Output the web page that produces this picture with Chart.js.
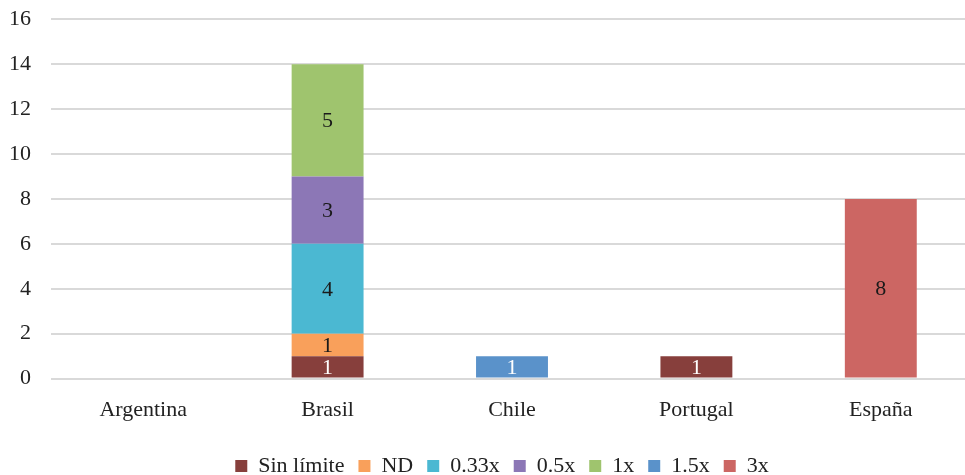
<!DOCTYPE html>
<html>
<head>
<meta charset="utf-8">
<script src="https://cdn.jsdelivr.net/npm/chart.js@4"></script>
<style>
  html, body { margin: 0; padding: 0; background: #fff; }
  #wrap { width: 965px; height: 475px; overflow: hidden; }
</style>
</head>
<body>
<div id="wrap"><canvas id="c" width="973" height="475"></canvas></div>
<script>
const categories = ['Argentina', 'Brasil', 'Chile', 'Portugal', 'España'];
const sinLimite = [null, 1, null, 1, null];
const nd = [null, 1, null, null, null];
const x033 = [null, 4, null, null, null];
const x05 = [null, 3, null, null, null];
const x1 = [null, 5, null, null, null];
const x15 = [null, null, 1, null, null];
const x3 = [null, null, null, null, 8];
const yTicks = [0, 2, 4, 6, 8, 10, 12, 14, 16];

const FONT = '"Liberation Serif", "Times New Roman", serif';

const series = [
  { label: 'Sin límite', data: sinLimite, color: '#873F3C', text: '#ffffff' },
  { label: 'ND', data: nd, color: '#F9A05B', text: '#1a1a1a' },
  { label: '0.33x', data: x033, color: '#4BB8D2', text: '#1a1a1a' },
  { label: '0.5x', data: x05, color: '#8C77B6', text: '#1a1a1a' },
  { label: '1x', data: x1, color: '#9FC46E', text: '#1a1a1a' },
  { label: '1.5x', data: x15, color: '#5A92CA', text: '#ffffff' },
  { label: '3x', data: x3, color: '#CC6663', text: '#1a1a1a' }
];

// Writes each segment's value in the middle of its bar
const valueLabels = {
  id: 'valueLabels',
  afterDatasetsDraw(chart) {
    const ctx = chart.ctx;
    ctx.save();
    ctx.font = '22px ' + FONT;
    ctx.textAlign = 'center';
    ctx.textBaseline = 'middle';
    chart.data.datasets.forEach((ds, i) => {
      const meta = chart.getDatasetMeta(i);
      meta.data.forEach((bar, j) => {
        const v = ds.data[j];
        if (v === null || v === undefined) return;
        ctx.fillStyle = ds.labelColor;
        ctx.fillText(String(v), bar.x, (bar.y + bar.base) / 2 + 1);
      });
    });
    ctx.restore();
  }
};

// Nudges the legend row to the right of the canvas centre
const legendShift = {
  id: 'legendShift',
  afterLayout(chart) {
    const lg = chart.legend;
    if (lg) { lg.left += 14; lg.right += 14; }
  }
};

new Chart(document.getElementById('c'), {
  type: 'bar',
  data: {
    labels: categories,
    datasets: series.map(s => ({
      label: s.label,
      data: s.data,
      backgroundColor: s.color,
      borderWidth: 0,
      labelColor: s.text,
      barPercentage: 0.78,
      categoryPercentage: 0.5
    }))
  },
  options: {
    responsive: false,
    animation: false,
    layout: { padding: { left: 3, right: 0, top: 12, bottom: -12 } },
    scales: {
      x: {
        stacked: true,
        grid: { display: false, drawTicks: false },
        border: { display: false },
        ticks: { color: '#222', font: { family: FONT, size: 22 }, padding: 18 }
      },
      y: {
        stacked: true,
        min: 0,
        max: 16,
        afterBuildTicks(axis) { axis.ticks = yTicks.map(v => ({ value: v })); },
        grid: { color: '#D9D9D9', lineWidth: 2, drawTicks: true, tickLength: 14, tickColor: 'rgba(0,0,0,0)' },
        border: { display: false },
        ticks: { color: '#222', font: { family: FONT, size: 22 }, padding: 6 }
      }
    },
    plugins: {
      legend: {
        position: 'bottom',
        labels: {
          color: '#222',
          font: { family: FONT, size: 22 },
          boxWidth: 12,
          boxHeight: 12,
          padding: 14
        }
      },
      tooltip: { enabled: false }
    }
  },
  plugins: [valueLabels, legendShift]
});
</script>
</body>
</html>
